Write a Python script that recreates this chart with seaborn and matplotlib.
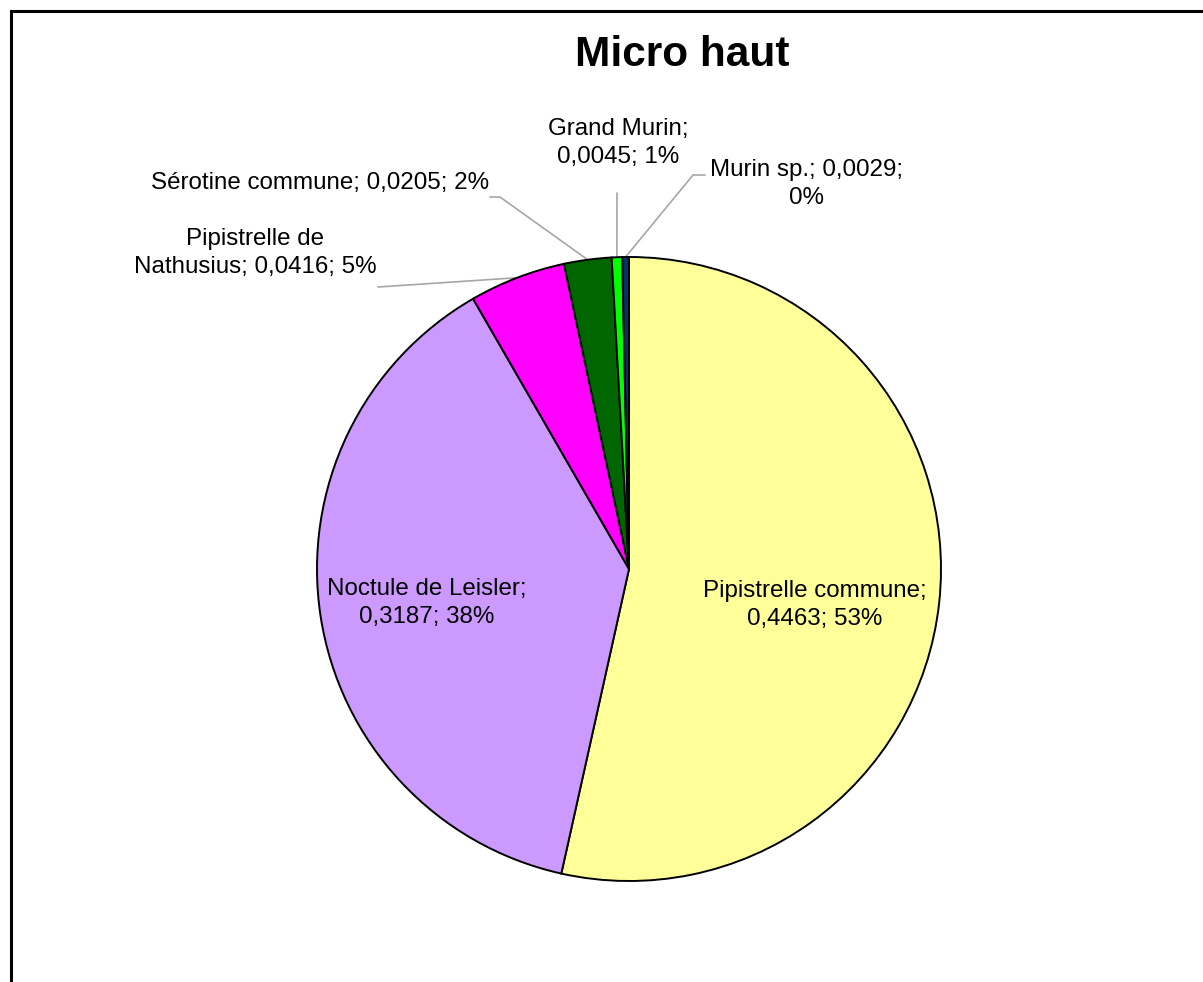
import matplotlib
matplotlib.use("Agg")
import matplotlib.pyplot as plt
import numpy as np
import seaborn as sns
from matplotlib.patches import Rectangle

W, H = 1203, 982

species = [
    "Pipistrelle commune",
    "Noctule de Leisler",
    "Pipistrelle de Nathusius",
    "Sérotine commune",
    "Grand Murin",
    "Murin sp.",
]
values = [0.4463, 0.3187, 0.0416, 0.0205, 0.0045, 0.0029]
labels = [
    "Pipistrelle commune;\n0,4463; 53%",
    "Noctule de Leisler;\n0,3187; 38%",
    "Pipistrelle de\nNathusius; 0,0416; 5%",
    "Sérotine commune; 0,0205; 2%",
    "Grand Murin;\n0,0045; 1%",
    "Murin sp.; 0,0029;\n0%",
]
colors = ["#FFFF99", "#CC99FF", "#FF00FF", "#006600", "#00FF00", "#003366"]

# label centres in pixel coords (y from top), and leader knee points (None = inside)
label_pos = [(815, 605), (427, 603), (255, 253), (320, 183), (618, 143), (807, 184)]
leader_knees = [None, None, [(378, 287)], [(500, 197), (490, 197)],
                [(617, 193)], [(693, 175), (705, 175)]]

sns.set_theme(style="white")
plt.rcParams["font.family"] = ["Liberation Sans", "DejaVu Sans"]
plt.rcParams["text.color"] = "black"


def py(y):
    return H - y


fig = plt.figure(figsize=(W / 100, H / 100), dpi=100)
ax = fig.add_axes([0, 0, 1, 1])

cx, cy, r = 629, py(569), 312
wedges, _ = ax.pie(
    values,
    colors=colors,
    startangle=90,
    counterclock=False,
    center=(cx, cy),
    radius=r,
    wedgeprops=dict(edgecolor="black", linewidth=1.4),
)

for wedge, text, pos, knees in zip(wedges, labels, label_pos, leader_knees):
    ax.text(pos[0], py(pos[1]), text, ha="center", va="center",
            fontsize=17.4, color="black", linespacing=1.4)
    if knees is None:
        continue
    mid = np.deg2rad((wedge.theta1 + wedge.theta2) / 2)
    xs = [cx + r * np.cos(mid)] + [k[0] for k in knees]
    ys = [cy + r * np.sin(mid)] + [py(k[1]) for k in knees]
    ax.plot(xs, ys, color="#A6A6A6", linewidth=1.2, zorder=0.5)

fig.text(682 / W, 1 - 55 / H, "Micro haut", ha="center", va="center",
         fontsize=30.5, fontweight="bold", color="black")

ax.add_patch(Rectangle((10.5, -50), W + 100, py(10.5) + 50, fill=False,
                       edgecolor="black", linewidth=2.2, clip_on=False))

ax.set_xlim(0, W)
ax.set_ylim(0, H)
ax.set_aspect("equal")
ax.axis("off")

fig.savefig("out.png", dpi=100, facecolor="white")
